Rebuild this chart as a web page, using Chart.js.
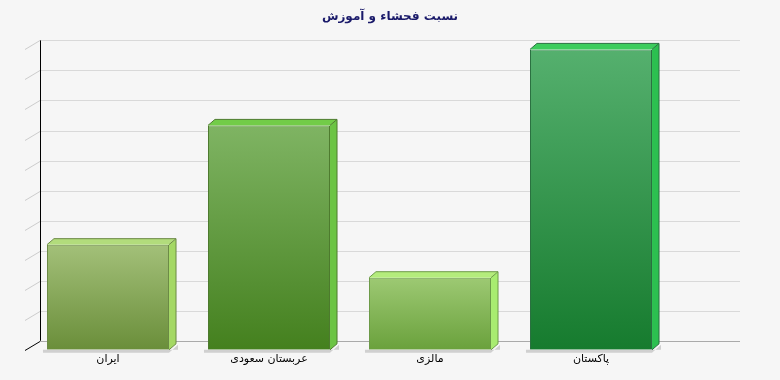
<!DOCTYPE html>
<html>
<head>
<meta charset="utf-8">
<script src="https://cdn.jsdelivr.net/npm/chart.js@4"></script>
<style>
  body { margin: 0; background: #f6f6f6; }
  #wrap { width: 780px; height: 380px; position: relative; }
</style>
</head>
<body>
<div id="wrap"><canvas id="chart1"></canvas></div>
<script>
const labels = ["ایران", "عربستان سعودی", "مالزی", "پاکستان"];
const values = [3.5, 7.47, 2.4, 10];
const yTicks = [0, 1, 2, 3, 4, 5, 6, 7, 8, 9, 10];

// front gradient (top, bottom), top face, side face, border
const faceTop = ["#a3c079", "#7fb463", "#9dc973", "#55b06e"];
const faceBottom = ["#6a8e3a", "#44801e", "#6aa13c", "#167b2e"];
const topColor = ["#b2dc7c", "#72cc48", "#b4ec7c", "#3ccc5c"];
const sideColor = ["#a4d864", "#6cc444", "#a8ec70", "#2cc050"];
const borderColor = ["#6b8a45", "#4d7a2e", "#6c9a48", "#2a7040"];

// depth of back wall and of the bars
const wallDx = 15, wallDy = -9;
const barDx = 7, barDy = -6;

const decor = {
  id: "decor",
  beforeDatasetsDraw(chart) {
    const c = chart.ctx;
    const y = chart.scales.y;
    const left = chart.chartArea.left - 2.5;
    c.save();
    yTicks.forEach((v) => {
      const yy = Math.round(y.getPixelForValue(v) + wallDy) + 0.5;
      c.strokeStyle = v === 0 ? "#aaaaaa" : "#d9d9d9";
      c.lineWidth = 1;
      c.beginPath();
      c.moveTo(left + wallDx, yy);
      c.lineTo(740, yy);
      c.stroke();
      c.strokeStyle = v === 0 ? "#000000" : "#cccccc";
      c.beginPath();
      c.moveTo(left, yy - wallDy);
      c.lineTo(left + wallDx, yy);
      c.stroke();
    });
    c.strokeStyle = "#000000";
    c.beginPath();
    c.moveTo(left + wallDx + 0.5, y.getPixelForValue(10) + wallDy);
    c.lineTo(left + wallDx + 0.5, y.getPixelForValue(0) + wallDy);
    c.stroke();
    // floor shadows
    chart.getDatasetMeta(0).data.forEach((bar) => {
      const l = bar.x - bar.width / 2, r = bar.x + bar.width / 2;
      c.fillStyle = "#d0d0d0";
      c.beginPath();
      c.moveTo(l - 4, bar.base + 3);
      c.lineTo(r, bar.base + 3);
      c.lineTo(r + barDx + 2, bar.base + barDy + 1);
      c.lineTo(r + barDx + 2, bar.base);
      c.lineTo(l - 4, bar.base);
      c.closePath();
      c.fill();
    });
    c.restore();
  },
  afterDatasetsDraw(chart) {
    const c = chart.ctx;
    c.save();
    chart.getDatasetMeta(0).data.forEach((bar, i) => {
      const l = bar.x - bar.width / 2, r = bar.x + bar.width / 2;
      c.fillStyle = topColor[i];
      c.beginPath();
      c.moveTo(l, bar.y);
      c.lineTo(l + barDx, bar.y + barDy);
      c.lineTo(r + barDx, bar.y + barDy);
      c.lineTo(r, bar.y);
      c.closePath();
      c.fill();
      c.fillStyle = sideColor[i];
      c.beginPath();
      c.moveTo(r, bar.y);
      c.lineTo(r + barDx, bar.y + barDy);
      c.lineTo(r + barDx, bar.base + barDy);
      c.lineTo(r, bar.base);
      c.closePath();
      c.fill();
      c.strokeStyle = borderColor[i];
      c.lineWidth = 1;
      c.beginPath();
      c.moveTo(l, bar.y);
      c.lineTo(l + barDx, bar.y + barDy);
      c.lineTo(r + barDx, bar.y + barDy);
      c.lineTo(r + barDx, bar.base + barDy);
      c.lineTo(r, bar.base);
      c.moveTo(r, bar.y);
      c.lineTo(r + barDx, bar.y + barDy);
      c.stroke();
    });
    c.restore();
  },
};

const ctx1 = document.getElementById("chart1").getContext("2d");
const chart1 = new Chart(ctx1, {
  type: "bar",
  data: {
    labels: labels,
    datasets: [
      {
        data: values,
        borderWidth: 1,
        borderColor: borderColor,
        backgroundColor: function (context) {
          const area = context.chart.chartArea;
          if (!area) return faceTop[context.dataIndex];
          const yScale = context.chart.scales.y;
          const top = yScale.getPixelForValue(values[context.dataIndex]);
          const g = context.chart.ctx.createLinearGradient(0, top, 0, area.bottom);
          g.addColorStop(0, faceTop[context.dataIndex]);
          g.addColorStop(1, faceBottom[context.dataIndex]);
          return g;
        },
        categoryPercentage: 1,
        barPercentage: 0.758,
      },
    ],
  },
  options: {
    responsive: true,
    maintainAspectRatio: false,
    animation: false,
    layout: {
      padding: { left: 0, right: 0, top: 0, bottom: 11 },
    },
    scales: {
      y: {
        min: 0,
        max: 10,
        grid: { display: false },
        border: { display: false },
        ticks: { display: false },
        afterFit(scale) { scale.width = 27.5; },
      },
      yRight: {
        position: "right",
        grid: { display: false },
        border: { display: false },
        ticks: { display: false },
        afterFit(scale) { scale.width = 108.5; },
      },
      x: {
        grid: { display: false, drawTicks: false },
        border: { display: false },
        ticks: {
          padding: 3,
          color: "#000000",
          font: { family: "DejaVu Sans", size: 11 },
        },
      },
    },
    plugins: {
      legend: { display: false },
      tooltip: { enabled: false },
      title: {
        display: true,
        text: "نسبت فحشاء و آموزش",
        color: "#1a1a6a",
        font: { family: "DejaVu Sans", size: 12, weight: "bold" },
        padding: { top: 10, bottom: 25 },
      },
    },
  },
  plugins: [decor],
});
</script>
</body>
</html>
